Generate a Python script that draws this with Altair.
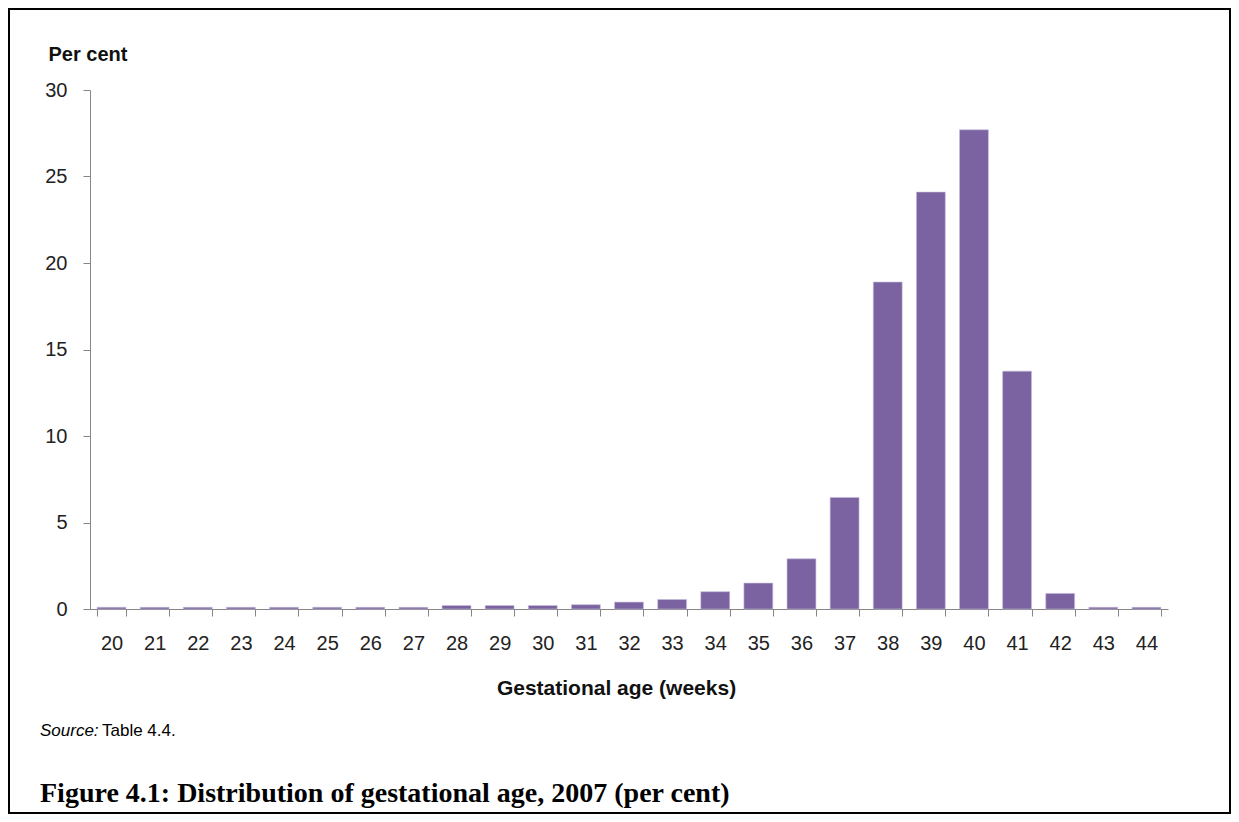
import altair as alt
import pandas as pd

weeks = [str(w) for w in range(20, 45)]
percent = [0.1, 0.1, 0.1, 0.1, 0.1, 0.1, 0.1, 0.1,
           0.2, 0.2, 0.2, 0.25, 0.4, 0.55, 1.0, 1.5,
           2.9, 6.45, 18.9, 24.1, 27.7, 13.75, 0.9, 0.1, 0.1]
y_ticks = [0, 5, 10, 15, 20, 25, 30]

df = pd.DataFrame({"week": weeks, "pct": percent})
one = pd.DataFrame({"k": [0]})

FONT = "Liberation Sans"

bars = alt.Chart(df).mark_bar(
    color="#7b62a0", stroke="#c8bddb", strokeWidth=0.6
).encode(
    x=alt.X("week:N", sort=weeks,
            scale=alt.Scale(paddingInner=0.33, paddingOuter=0.165),
            axis=alt.Axis(title="Gestational age (weeks)", labelAngle=0,
                          tickBand="extent", tickSize=7, labelPadding=17,
                          titleX=526, titleY=85, titleAnchor="start",
                          titleAlign="center", titleBaseline="alphabetic",
                          titleFontSize=21, titleFontWeight="bold")),
    y=alt.Y("pct:Q", scale=alt.Scale(domain=[0, 30], nice=False),
            axis=alt.Axis(title="Per cent", values=y_ticks, tickSize=7,
                          labelPadding=16, titleAngle=0, titleAlign="left",
                          titleBaseline="alphabetic", titleX=-42, titleY=-30,
                          titleFontSize=20, titleFontWeight="bold"))
)

src1 = alt.Chart(one).mark_text(
    text="Source:", font=FONT, fontSize=17, fontStyle="italic",
    align="left", baseline="alphabetic", color="#000"
).encode(x=alt.value(-50), y=alt.value(646))

src2 = alt.Chart(one).mark_text(
    text="Table 4.4.", font=FONT, fontSize=17,
    align="left", baseline="alphabetic", color="#000"
).encode(x=alt.value(12), y=alt.value(646))

fig = alt.Chart(one).mark_text(
    text="Figure 4.1: Distribution of gestational age, 2007 (per cent)",
    font="Liberation Serif", fontSize=28, fontWeight="bold",
    align="left", baseline="alphabetic", color="#000"
).encode(x=alt.value(-50), y=alt.value(712))

frame = alt.Chart(one).mark_rect(
    fillOpacity=0, stroke="#000", strokeWidth=2
).encode(x=alt.value(-81), x2=alt.value(1140),
         y=alt.value(-81), y2=alt.value(723))

chart = alt.layer(bars, src1, src2, fig, frame).properties(
    width=1078, height=519,
    autosize=alt.AutoSizeParams(type="none"),
    padding={"left": 82, "top": 82, "right": 63, "bottom": 205},
    background="white"
).configure_view(strokeWidth=0).configure_axis(
    labelFont=FONT, labelFontSize=20, labelColor="#222",
    titleFont=FONT, titleColor="#111",
    domainColor="#868686", tickColor="#868686", grid=False
)

chart.save("out.html", embed_options={"renderer": "svg", "actions": False})
